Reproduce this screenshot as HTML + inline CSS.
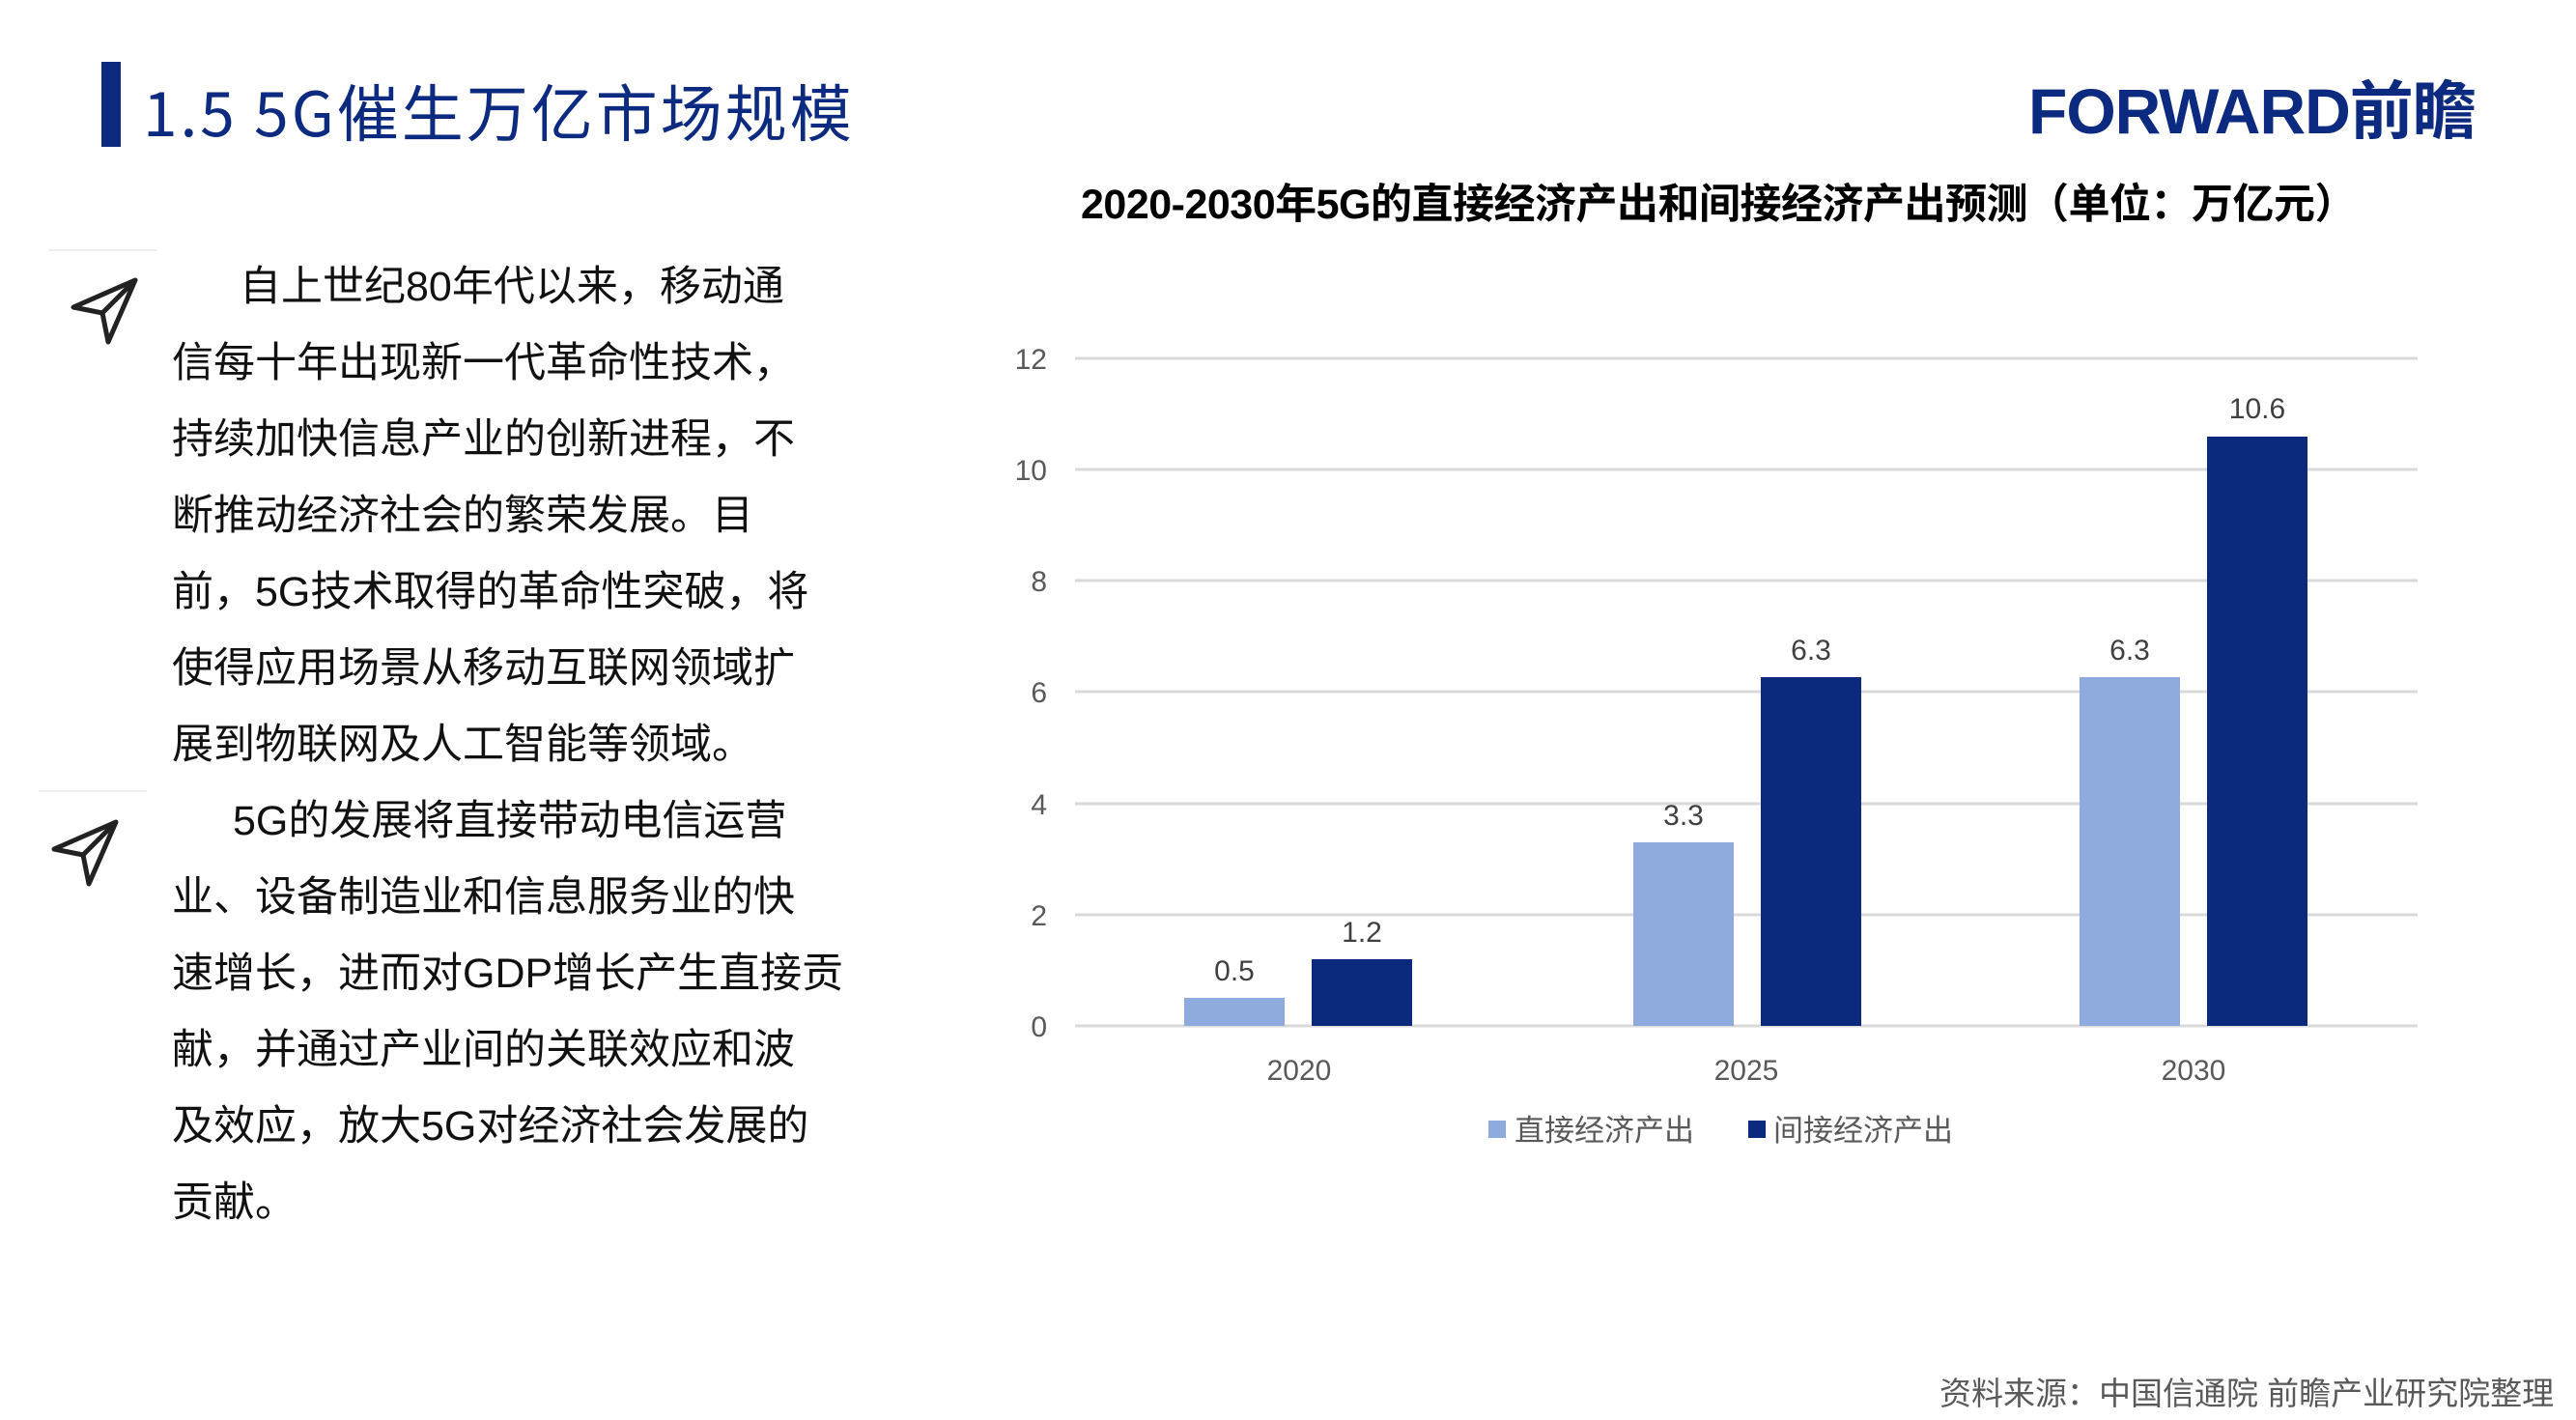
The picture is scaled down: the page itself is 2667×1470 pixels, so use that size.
<!DOCTYPE html>
<html><head><meta charset="utf-8"><style>
body{margin:0;width:2667px;height:1470px;background:#fff;position:relative;overflow:hidden;font-family:"Liberation Sans","Noto Sans CJK SC",sans-serif}
.a{position:absolute;white-space:nowrap}
.p{font-size:43px;color:#111;line-height:79px}
</style></head><body>
<div class="a" style="left:105px;top:64px;width:20px;height:88px;background:#0c2a7f"></div>
<div class="a" style="left:148px;top:76px;font-size:64px;color:#0c2a7f;font-family:'Noto Sans CJK SC',sans-serif;line-height:76px;letter-spacing:3px">1.5 5G催生万亿市场规模</div>
<div class="a" style="left:2100px;top:80px;font-size:66px;font-weight:bold;color:#0c2a7f;line-height:70px;letter-spacing:-1px">FORWARD前瞻</div>
<div class="a" style="left:1053px;top:184px;width:1452px;text-align:center;font-size:43px;font-weight:bold;color:#000;line-height:56px;letter-spacing:-0.5px">2020-2030年5G的直接经济产出和间接经济产出预测（单位：万亿元）</div>

<div class="a" style="left:51px;top:258px;width:112px;height:2px;background:#eee"></div>
<div class="a" style="left:40px;top:818px;width:112px;height:2px;background:#eee"></div>
<svg class="a" style="left:70px;top:282px" width="80" height="80" viewBox="0 0 80 80"><path d="M6 36 L70 8 L42 72 L36 42 Z M36 42 L70 8" fill="none" stroke="#222" stroke-width="5" stroke-linejoin="round"/></svg>
<svg class="a" style="left:50px;top:843px" width="80" height="80" viewBox="0 0 80 80"><path d="M6 36 L70 8 L42 72 L36 42 Z M36 42 L70 8" fill="none" stroke="#222" stroke-width="5" stroke-linejoin="round"/></svg>

<div class="a p" style="left:178px;top:258px;width:700px;white-space:normal">
<div style="padding-left:70px">自上世纪80年代以来，移动通</div>
<div>信每十年出现新一代革命性技术，</div>
<div>持续加快信息产业的创新进程，不</div>
<div>断推动经济社会的繁荣发展。目</div>
<div>前，5G技术取得的革命性突破，将</div>
<div>使得应用场景从移动互联网领域扩</div>
<div>展到物联网及人工智能等领域。</div>
<div style="padding-left:63px">5G的发展将直接带动电信运营</div>
<div>业、设备制造业和信息服务业的快</div>
<div>速增长，进而对GDP增长产生直接贡</div>
<div>献，并通过产业间的关联效应和波</div>
<div>及效应，放大5G对经济社会发展的</div>
<div>贡献。</div>
</div>

<svg class="a" style="left:0;top:0" width="2667" height="1470">
<g stroke="#d9d9d9" stroke-width="3">
<line x1="1113" x2="2503" y1="371" y2="371"/><line x1="1113" x2="2503" y1="486" y2="486"/>
<line x1="1113" x2="2503" y1="601" y2="601"/><line x1="1113" x2="2503" y1="716" y2="716"/>
<line x1="1113" x2="2503" y1="832" y2="832"/><line x1="1113" x2="2503" y1="947" y2="947"/>
<line x1="1113" x2="2503" y1="1062" y2="1062"/></g>
<g font-size="30" fill="#595959" text-anchor="end" font-family="Liberation Sans,sans-serif">
<text x="1084" y="382">12</text><text x="1084" y="497">10</text><text x="1084" y="612">8</text>
<text x="1084" y="727">6</text><text x="1084" y="843">4</text><text x="1084" y="958">2</text><text x="1084" y="1073">0</text></g>
<g fill="#8faadc"><rect x="1226" y="1033" width="104" height="29"/><rect x="1691" y="872" width="104" height="190"/><rect x="2153" y="701" width="104" height="361"/></g>
<g fill="#0b2a7e"><rect x="1358" y="993" width="104" height="69"/><rect x="1823" y="701" width="104" height="361"/><rect x="2285" y="452" width="104" height="610"/></g>
<g font-size="30" fill="#404040" text-anchor="middle" font-family="Liberation Sans,sans-serif">
<text x="1278" y="1015">0.5</text><text x="1410" y="975">1.2</text>
<text x="1743" y="854">3.3</text><text x="1875" y="683">6.3</text>
<text x="2205" y="683">6.3</text><text x="2337" y="433">10.6</text>
<text x="1345" y="1118" fill="#595959">2020</text><text x="1808" y="1118" fill="#595959">2025</text><text x="2271" y="1118" fill="#595959">2030</text></g>
<rect x="1541" y="1160" width="18" height="18" fill="#8faadc"/>
<rect x="1810" y="1160" width="18" height="18" fill="#0b2a7e"/>
<g font-size="31" fill="#595959" font-family="Noto Sans CJK SC,sans-serif">
<text x="1568" y="1181">直接经济产出</text><text x="1836" y="1181">间接经济产出</text></g>
</svg>
<div class="a" style="left:2008px;top:1422px;font-size:33px;color:#595959;line-height:42px">资料来源：中国信通院  前瞻产业研究院整理</div>
</body></html>
